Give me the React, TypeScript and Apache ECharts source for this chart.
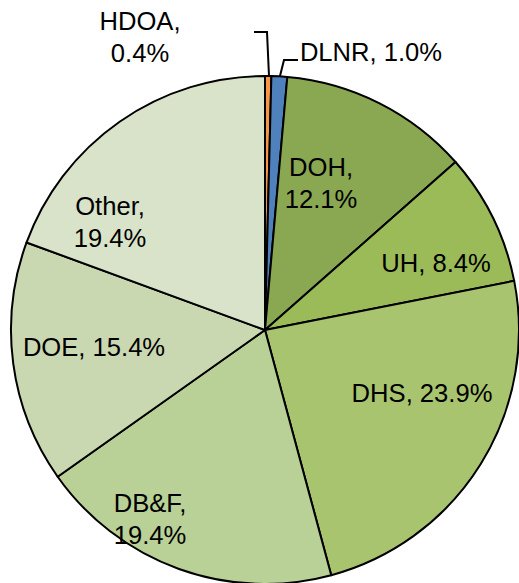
import React, { useEffect, useRef } from "react";
import * as echarts from "echarts";

const categories = ["HDOA", "DLNR", "DOH", "UH", "DHS", "DB&F", "DOE", "Other"];
const shares = [0.4, 1.0, 12.1, 8.4, 23.9, 19.4, 15.4, 19.4];
const sliceColors = ["#f79646", "#4f81bd", "#8aa752", "#9bbb59", "#a9c46f", "#b9d096", "#cad8b1", "#d9e3c9"];
const labelSeparators = ["\n", " ", "\n", " ", " ", "\n", " ", "\n"];

const CX = 265;
const CY = 330;
const R = 254;
// label centres relative to pie centre (layout only)
const labelOffsets: [number, number][] = [
  [-125, -293],
  [106, -278],
  [56, -147],
  [171, -67],
  [157, 63],
  [-115, 189],
  [-171, 17],
  [-155, -108],
];

export default function App() {
  const ref = useRef<HTMLDivElement>(null);
  useEffect(() => {
    document.body.style.margin = "0";
    const chart = echarts.init(ref.current!, null, { renderer: "svg" });
    chart.setOption({
      animation: false,
      backgroundColor: "#ffffff",
      series: [
        {
          type: "pie",
          center: [CX, CY],
          radius: [0, R],
          startAngle: 90,
          clockwise: true,
          avoidLabelOverlap: false,
          itemStyle: { borderColor: "#000000", borderWidth: 2 },
          label: {
            show: true,
            position: "inside",
            color: "#000000",
            fontFamily: "'Liberation Sans', Arial, Helvetica, sans-serif",
            fontSize: 25.6,
            lineHeight: 32,
            align: "center",
            formatter: (p: any) => `${p.name},${labelSeparators[p.dataIndex]}${p.value.toFixed(1)}%`,
          },
          labelLine: { show: false },
          labelLayout: (p: any) => {
            const o = labelOffsets[p.dataIndex];
            return { x: CX + o[0], y: CY + o[1], align: "center", verticalAlign: "middle" };
          },
          emphasis: { disabled: true },
          data: categories.map((c, i) => ({
            name: c,
            value: shares[i],
            itemStyle: { color: sliceColors[i] },
          })),
        },
      ],
      graphic: [
        {
          type: "polyline",
          shape: { points: [[269, 76], [267, 32], [254, 32]] },
          style: { stroke: "#000", lineWidth: 2, fill: "none" },
          z: 10,
        },
        {
          type: "polyline",
          shape: { points: [[280, 76], [284, 60], [298, 60]] },
          style: { stroke: "#000", lineWidth: 2, fill: "none" },
          z: 10,
        },
      ],
    });
    return () => chart.dispose();
  }, []);
  return <div ref={ref} style={{ width: 519, height: 583 }} />;
}
